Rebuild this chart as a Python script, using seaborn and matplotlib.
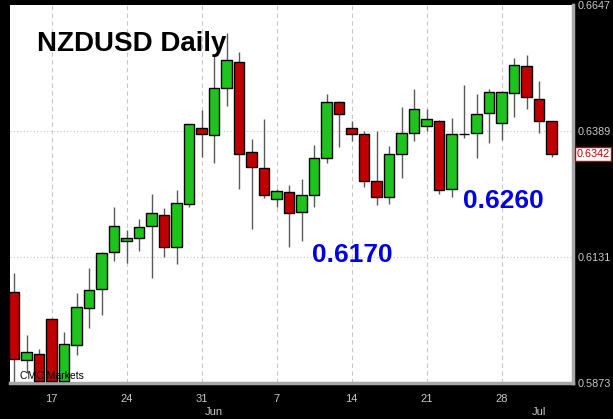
import numpy as np
import pandas as pd
import seaborn as sns
import matplotlib.pyplot as plt
import matplotlib.transforms as mtrans

sns.set_style("white")
plt.rcParams['font.family'] = ['Liberation Sans', 'DejaVu Sans']

# daily candles (Sun-Fri sessions), 13 May - 2 Jul
opens = [0.6059, 0.5920, 0.5933, 0.6005, 0.5878, 0.5951, 0.6026, 0.6066, 0.6142, 0.6163,
         0.6170, 0.6194, 0.6217, 0.6151, 0.6239, 0.6395, 0.6380, 0.6477, 0.6530, 0.6345,
         0.6313, 0.6249, 0.6264, 0.6223, 0.6258, 0.6333, 0.6448, 0.6395, 0.6382, 0.6286,
         0.6253, 0.6341, 0.6384, 0.6399, 0.6410, 0.6270, 0.6383, 0.6384, 0.6425, 0.6405,
         0.6466, 0.6522, 0.6454, 0.6409]
highs = [0.6098, 0.5972, 0.5943, 0.6006, 0.5977, 0.6058, 0.6109, 0.6141, 0.6234, 0.6187,
         0.6208, 0.6260, 0.6232, 0.6268, 0.6404, 0.6432, 0.6544, 0.6589, 0.6551, 0.6372,
         0.6414, 0.6271, 0.6279, 0.6290, 0.6360, 0.6465, 0.6450, 0.6410, 0.6389, 0.6389,
         0.6359, 0.6438, 0.6476, 0.6435, 0.6412, 0.6415, 0.6483, 0.6464, 0.6475, 0.6470,
         0.6538, 0.6544, 0.6491, 0.6410]
lows = [0.5876, 0.5894, 0.5874, 0.5874, 0.5875, 0.5931, 0.5986, 0.6013, 0.6122, 0.6119,
        0.6143, 0.6089, 0.6131, 0.6116, 0.6233, 0.6335, 0.6324, 0.6440, 0.6270, 0.6189,
        0.6251, 0.6234, 0.6151, 0.6163, 0.6233, 0.6324, 0.6357, 0.6369, 0.6275, 0.6237,
        0.6240, 0.6292, 0.6369, 0.6388, 0.6260, 0.6253, 0.6375, 0.6333, 0.6364, 0.6371,
        0.6418, 0.6434, 0.6384, 0.6335]
closes = [0.5922, 0.5936, 0.5878, 0.5878, 0.5953, 0.6028, 0.6064, 0.6140, 0.6194, 0.6170,
          0.6193, 0.6221, 0.6151, 0.6241, 0.6403, 0.6383, 0.6478, 0.6534, 0.6341, 0.6315,
          0.6258, 0.6266, 0.6221, 0.6258, 0.6334, 0.6448, 0.6423, 0.6382, 0.6286, 0.6253,
          0.6341, 0.6384, 0.6435, 0.6413, 0.6268, 0.6382, 0.6383, 0.6423, 0.6468, 0.6468,
          0.6524, 0.6458, 0.6409, 0.6342]

week_pos = [3, 9, 15, 21, 27, 33, 39]
week_labels = ['17', '24', '31', '7', '14', '21', '28']
month_pos = [16, 42]
month_labels = ['Jun', 'Jul']
price_ticks = [0.5873, 0.6131, 0.6389, 0.6647]
last_price = 0.6342

df = pd.DataFrame({'open': opens, 'high': highs, 'low': lows, 'close': closes})
df['x'] = np.arange(len(df))
df['body_lo'] = df[['open', 'close']].min(axis=1)
df['body_h'] = (df['close'] - df['open']).abs().clip(lower=0.00006)
green, red = '#1ec31e', '#c00000'
df['col'] = np.where(df['close'] > df['open'], green,
                     np.where(df['close'] < df['open'], red, 'black'))

fig = plt.figure(figsize=(6.13, 4.19), dpi=100, facecolor='black')
ax = fig.add_axes([10 / 613, 36 / 419, 563 / 613, 378 / 419])
ax.set_facecolor('white')

# grid
for p in week_pos:
    ax.axvline(p, color='#c8c8c8', lw=0.8, ls=(0, (4, 3)), zorder=0)
for t in price_ticks[1:3]:
    ax.axhline(t, color='#c8c8c8', lw=0.8, ls=(0, (1, 2)), zorder=0)

ax.vlines(df['x'], df['low'], df['high'], color='#5a5a5a', lw=1, zorder=2)
ax.bar(df['x'], df['body_h'], bottom=df['body_lo'], width=0.82,
       color=df['col'], edgecolor='black', linewidth=1, zorder=3)

ax.set_xlim(-0.32, 44.72)
ax.set_ylim(0.5873, 0.6647)

ax.yaxis.tick_right()
ax.set_yticks(price_ticks)
ax.set_yticklabels([f'{t:.4f}' for t in price_ticks])
ax.set_xticks(week_pos)
ax.set_xticklabels(week_labels)
ax.tick_params(axis='y', length=0, pad=3, labelsize=7.8, labelcolor='#c8c8c8')
ax.tick_params(axis='x', length=0, pad=8, labelsize=8, labelcolor='#c8c8c8')

trans = mtrans.blended_transform_factory(ax.transData, ax.transAxes)
for p, lab in zip(month_pos, month_labels):
    ax.text(p, -0.077, lab, transform=trans, ha='center', va='center',
            fontsize=8, color='#c8c8c8', clip_on=False)

for side in ['left', 'top']:
    ax.spines[side].set_visible(False)
for side in ['bottom', 'right']:
    ax.spines[side].set_color('#a8a8a8')
    ax.spines[side].set_linewidth(2.5)

ytrans = mtrans.blended_transform_factory(ax.transAxes, ax.transData)
ax.text(1.006, last_price, f'{last_price:.4f}', transform=ytrans, ha='left', va='center',
        fontsize=7.8, color=red, clip_on=False,
        bbox=dict(boxstyle='square,pad=0.15', facecolor='white', edgecolor=red, lw=1))

ax.text(1.84, 0.6553, 'NZDUSD Daily', fontsize=20, fontweight='bold', color='black',
        ha='left', va='baseline', zorder=5)
ax.text(23.84, 0.6121, '0.6170', fontsize=19, fontweight='bold', color='#0000e0',
        ha='left', va='baseline', zorder=5)
ax.text(35.92, 0.6232, '0.6260', fontsize=19, fontweight='bold', color='#0000e0',
        ha='left', va='baseline', zorder=5)
ax.text(0.46, 0.5882, 'CMC Markets', fontsize=7.5, color='black',
        ha='left', va='baseline', zorder=5)

fig.savefig('out.png', dpi=100, facecolor='black')
